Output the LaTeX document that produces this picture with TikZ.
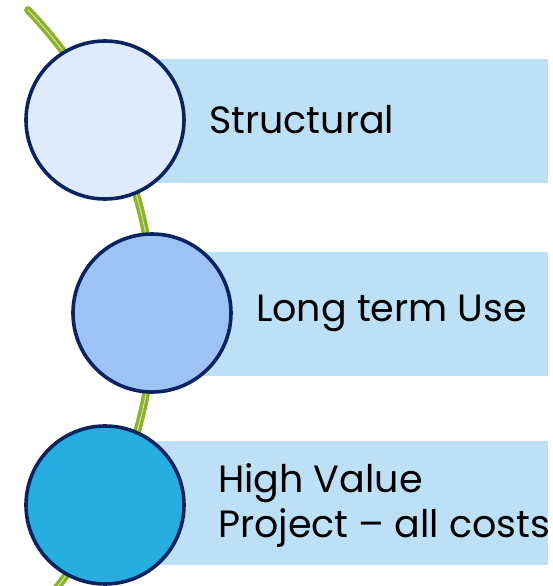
\documentclass[tikz,border=0pt]{standalone}
\usepackage{fontspec}
\setmainfont{Poppins}
\usepackage{tikz}
\usetikzlibrary{positioning}
\definecolor{navy}{HTML}{0B2461}
\definecolor{vine}{HTML}{8DB22C}
\definecolor{boxblue}{HTML}{BDE0F7}
\definecolor{paleblue}{HTML}{DDEBFB}
\definecolor{midblue}{HTML}{9DC3F5}
\definecolor{deepblue}{HTML}{27AEE0}
\tikzset{
    %Define style for the circles
    bead/.style={
           circle,
           draw=navy, line width=1.8pt,
           minimum size=79pt,
           inner sep=0pt},
    %Define style for the boxes behind the text
    band/.style={
           rectangle,
           fill=boxblue,
           minimum height=62pt,
           anchor=west},
    %Define style for the texts
    lbl/.style={
           inner sep=0pt,
           font=\fontsize{19}{22.5}\selectfont,
           align=left},
    % Define vine style
    stem/.style={
           draw=vine,
           line width=1.7pt,
           double=vine!35!white,
           double distance=0.45pt,
           line cap=round}
}
\begin{document}
\begin{tikzpicture}[x=0.5pt,y=0.5pt,node distance=11.5pt]
\useasboundingbox (0,0) rectangle (553,586);

\coordinate (vtop) at (28,576);
\coordinate (vbot) at (55,-4);
\draw[stem] (vtop) to[bend left=41] (vbot);

\node[band, minimum width=195.5pt](band1) at (157,465){};
\node[band, minimum width=172pt](band2) at (204,272.5){};
\node[band, minimum width=195.5pt](band3) at (157,83){};

\node[bead, fill=paleblue](struct) at (105,466){};
\node[bead, fill=midblue](use) at (152,273){};
\node[bead, fill=deepblue](value) at (105,81){};

\node[lbl, right=of struct](structlbl){Structural};
\node[lbl, right=of use](uselbl){Long term Use};
\node[lbl, right=16pt of value](valuelbl){High Value\\Project -- all costs};

\end{tikzpicture}
\end{document}
